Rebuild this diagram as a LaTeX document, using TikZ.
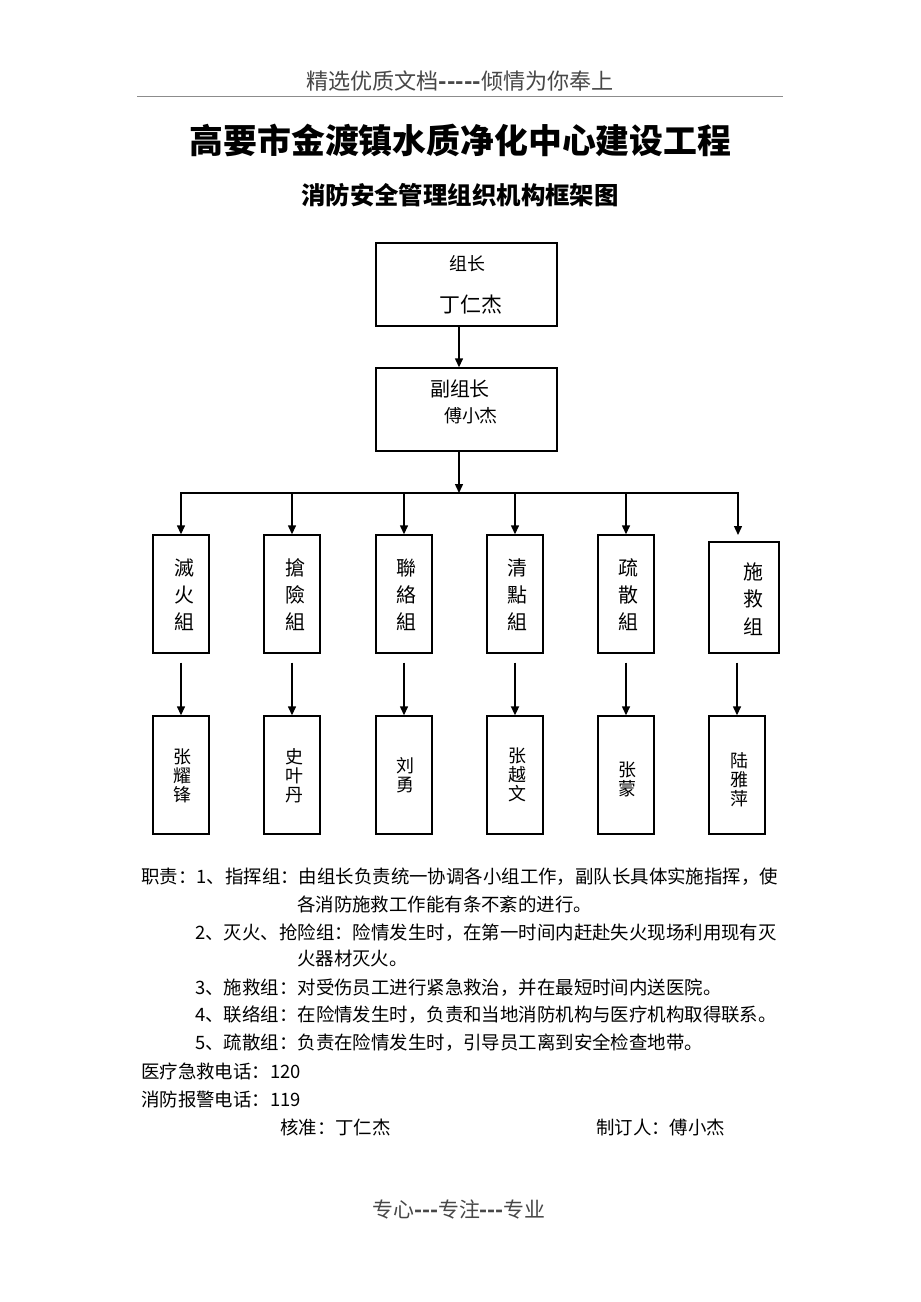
\documentclass[tikz,border=0pt]{standalone}
\usepackage{fontspec}
\setmainfont{Noto Sans CJK SC}[Ligatures=TeXOff]
\usetikzlibrary{arrows.meta}
\newcommand\myfs[1]{\fontsize{#1}{#1}\selectfont}
\begin{document}
\begin{tikzpicture}[x=1bp,y=-1bp,
  lw/.style={line width=1.4bp},
  bigbox/.style={draw,lw,inner sep=0,minimum width=181bp,minimum height=83bp},
  grpbox/.style={draw,lw,inner sep=0,minimum width=56bp,minimum height=118bp},
  conn/.style={lw,-{Triangle[length=9bp,width=8bp]}},
  txt/.style={inner sep=0,anchor=west,font=\myfs{18.5}},
  vtxt/.style={inner sep=0,align=center,font=\fontsize{20}{27}\selectfont},
  ntxt/.style={inner sep=0,align=center,font=\fontsize{18}{19}\selectfont},
  graytxt/.style={inner sep=0,text=black!72}]
\useasboundingbox (0,0) rectangle (920,1302);
\fill[white] (0,0) rectangle (920,1302);
% header / footer
\node[graytxt,font=\myfs{22.2}] (hdr) at (460,81) {精选优质文档\textbf{-{}-{}-{}-{}-}倾情为你奉上};
\coordinate (hl) at (137,96);
\coordinate (hr) at (783,96);
\draw[black!45,line width=0.8bp] (hl) -- (hr);
\node[graytxt,font=\myfs{21}] (ftr) at (459,1210) {专心\textbf{-{}-{}-}专注\textbf{-{}-{}-}专业};
% titles
\node[inner sep=0,font=\bfseries\myfs{34}] (title) at (460.5,140) {高要市金渡镇水质净化中心建设工程};
\node[inner sep=0,font=\bfseries\myfs{24.5}] (sub) at (460,195) {消防安全管理组织机构框架图};
% top boxes
\node[bigbox] (p1) at (466.5,284.5) {};
\node[inner sep=0,font=\myfs{18}] (p1a) at (467,264) {组长};
\node[inner sep=0,font=\myfs{21}] (p1b) at (471,305) {丁仁杰};
\node[bigbox] (p2) at (466.5,409.5) {};
\node[inner sep=0,font=\myfs{20}] (p2a) at (460,389) {副组长};
\node[inner sep=0,font=\myfs{18}] (p2b) at (471,416) {傅小杰};
% bus
\coordinate (c0) at (459,493);
\coordinate (b1) at (181,493);
\coordinate (b2) at (292,493);
\coordinate (b3) at (404,493);
\coordinate (b4) at (515,493);
\coordinate (b5) at (626,493);
\coordinate (b6) at (738,493);
\draw[conn] (p1.south -| c0) -- (p2.north -| c0);
\draw[conn] (p2.south -| c0) -- (c0);
\draw[lw] ([xshift=-0.7bp]b1) -- ([xshift=0.7bp]b6);
% group boxes
\node[grpbox] (g1) at (181,594) {};
\node[grpbox] (g2) at (292,594) {};
\node[grpbox] (g3) at (404,594) {};
\node[grpbox] (g4) at (515,594) {};
\node[grpbox] (g5) at (626,594) {};
\node[grpbox,minimum width=70bp,minimum height=111bp] (g6) at (744,597.5) {};
\node[vtxt] (gt1) at (184,595) {滅\\火\\組};
\node[vtxt] (gt2) at (295,595) {搶\\險\\組};
\node[vtxt] (gt3) at (406,595) {聯\\絡\\組};
\node[vtxt] (gt4) at (517,595) {清\\點\\組};
\node[vtxt] (gt5) at (628,595) {疏\\散\\組};
\node[vtxt,font=\fontsize{20}{27.5}\selectfont] (gt6) at (753,599) {施\\救\\组};
\coordinate (e6) at (738,535);
\draw[conn] (b1) -- (g1.north);
\draw[conn] (b2) -- (g2.north);
\draw[conn] (b3) -- (g3.north);
\draw[conn] (b4) -- (g4.north);
\draw[conn] (b5) -- (g5.north);
\draw[conn] (b6) -- (e6);
% name boxes
\node[grpbox] (n1) at (181,775) {};
\node[grpbox] (n2) at (292,775) {};
\node[grpbox] (n3) at (404,775) {};
\node[grpbox] (n4) at (515,775) {};
\node[grpbox] (n5) at (626,775) {};
\node[grpbox] (n6) at (737,775) {};
\node[ntxt] (nt1) at (182,776) {张\\耀\\锋};
\node[ntxt] (nt2) at (294,776) {史\\叶\\丹};
\node[ntxt] (nt3) at (405,775) {刘\\勇};
\node[ntxt] (nt4) at (517,775) {张\\越\\文};
\node[ntxt] (nt5) at (627,779) {张\\蒙};
\node[ntxt] (nt6) at (739,780) {陆\\雅\\萍};
\draw[conn,shorten <=9bp] (g1.south) -- (n1.north);
\draw[conn,shorten <=9bp] (g2.south) -- (n2.north);
\draw[conn,shorten <=9bp] (g3.south) -- (n3.north);
\draw[conn,shorten <=9bp,line width=2bp] (g4.south) -- (n4.north);
\draw[conn,shorten <=9bp] (g5.south) -- (n5.north);
\draw[conn,shorten <=9bp] (g6.south -| n6.north) -- (n6.north);
% duties text
\node[txt] (l1) at (141,877) {职责：1、指挥组：由组长负责统一协调各小组工作，副队长具体实施指挥，使};
\node[txt] (l2) at (297,904) {各消防施救工作能有条不紊的进行。};
\node[txt] (l3) at (195,933) {2、灭火、抢险组：险情发生时，在第一时间内赶赴失火现场利用现有灭};
\node[txt] (l4) at (297,959) {火器材灭火。};
\node[txt] (l5) at (195,988) {3、施救组：对受伤员工进行紧急救治，并在最短时间内送医院。};
\node[txt] (l6) at (195,1015) {4、联络组：在险情发生时，负责和当地消防机构与医疗机构取得联系。};
\node[txt] (l7) at (195,1043) {5、疏散组：负责在险情发生时，引导员工离到安全检查地带。};
\node[txt] (l8) at (141,1071) {医疗急救电话：120};
\node[txt] (l9) at (141,1099) {消防报警电话：119};
\node[txt] (l10) at (280,1127) {核准：丁仁杰};
\node[txt] (l11) at (596,1127) {制订人：傅小杰};
\end{tikzpicture}
\end{document}
